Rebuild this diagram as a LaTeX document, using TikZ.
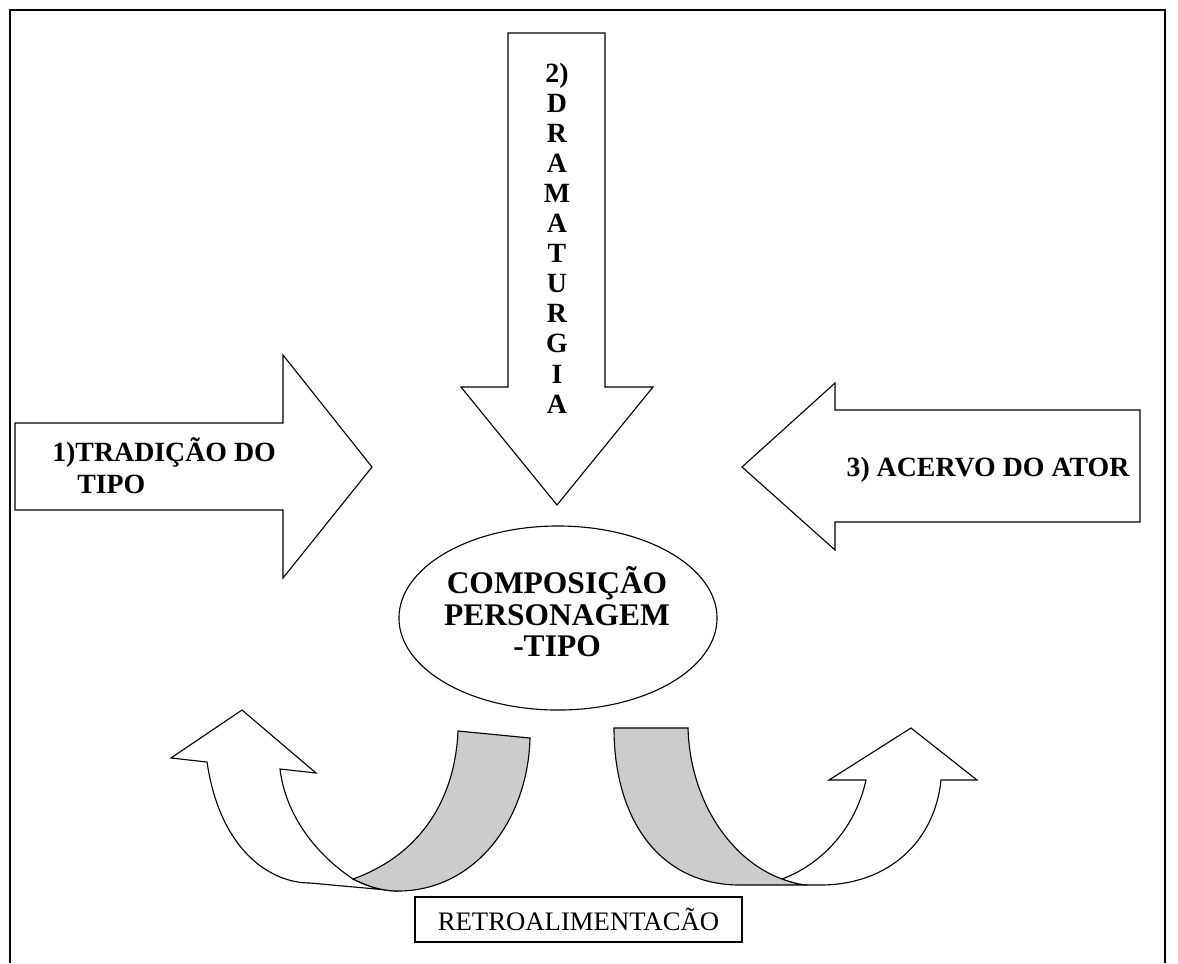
\documentclass[tikz,border=0pt]{standalone}
\usepackage{fontspec}
\setmainfont{Liberation Serif}
\usetikzlibrary{shapes.geometric}
\begin{document}
\begin{tikzpicture}[x=0.025cm,y=-0.025cm, line join=miter,
  blk/.style={draw=black, line width=0.8pt, fill=white},
  band/.style={draw=black, line width=0.8pt, fill=black!20},
  lbl/.style={font=\fontsize{19.8}{22.4}\selectfont\bfseries, inner sep=0pt},
  plaintxt/.style={font=\fontsize{19}{22}\selectfont, inner sep=0pt}]
\useasboundingbox (0,0) rectangle (1178,963);
% frame
\draw[line width=1.3pt] (10,963) -- (10,10) -- (1165,10) -- (1165,963);
% down arrow
\draw[blk] (508,33) -- (605,33) -- (605,387) -- (653,387) -- (557,505) -- (461,387) -- (508,387) -- cycle;
\foreach \ch [count=\i from 0] in {2),D,R,A,M,A,T,U,R,G,I,A}
  \node[lbl, anchor=base] (dr\i) at (557,{82+30.1*\i}) {\ch};
% left arrow
\draw[blk] (15,423) -- (283,423) -- (283,355) -- (372,467) -- (283,578) -- (283,510) -- (15,510) -- cycle;
\node[lbl, anchor=base west] (t1a) at (52,461) {1)TRADIÇÃO DO};
\node[lbl, anchor=base west] (t1b) at (77,493) {TIPO};
% right arrow
\draw[blk] (1140,410) -- (835,410) -- (835,383) -- (742,467) -- (835,550) -- (835,522) -- (1140,522) -- cycle;
\node[lbl, anchor=base] (t3) at (988,476) {3) ACERVO DO ATOR};
% ellipse
\node[ellipse, draw, line width=0.8pt, minimum width=7.95cm, minimum height=4.6cm, inner sep=0pt] (comp) at (558,618) {};
\node[align=center, inner sep=0pt, font=\fontsize{22.4}{22.4}\selectfont\bfseries] (comptxt) at (557,612) {COMPOSIÇÃO\\PERSONAGEM\\-TIPO};
% left curved arrow
\draw[blk] (207,762) .. controls (220,850) and (270,883) .. (310,883) -- (398,891)
  .. controls (380,891) and (365,885) .. (353,879)
  .. controls (310,850) and (285,810) .. (280,769) -- (316,773) -- (242,710) -- (171,758) -- cycle;
\draw[band] (458,731) -- (530,738) .. controls (528,820) and (475,891) .. (398,891)
  .. controls (380,891) and (365,885) .. (353,879)
  .. controls (420,855) and (455,800) .. (458,731) -- cycle;
% right curved arrow
\draw[blk] (807,885) -- (820,885) .. controls (890,885) and (935,840) .. (941,780) -- (977,780) -- (911,728) -- (829,780) -- (866,780)
  .. controls (855,830) and (820,865) .. (782,879)
  .. controls (790,882) and (800,885) .. (807,885) -- cycle;
\draw[band] (614,728) -- (688,728) .. controls (690,800) and (730,860) .. (782,879)
  .. controls (790,882) and (800,885) .. (807,885) -- (740,885)
  .. controls (660,885) and (614,820) .. (614,728) -- cycle;
% retro box
\node[draw, line width=0.8pt, minimum width=8.175cm, minimum height=1.125cm, plaintxt] (retro) at (578.5,919.5) {RETROALIMENTACÃO};
\end{tikzpicture}
\end{document}
